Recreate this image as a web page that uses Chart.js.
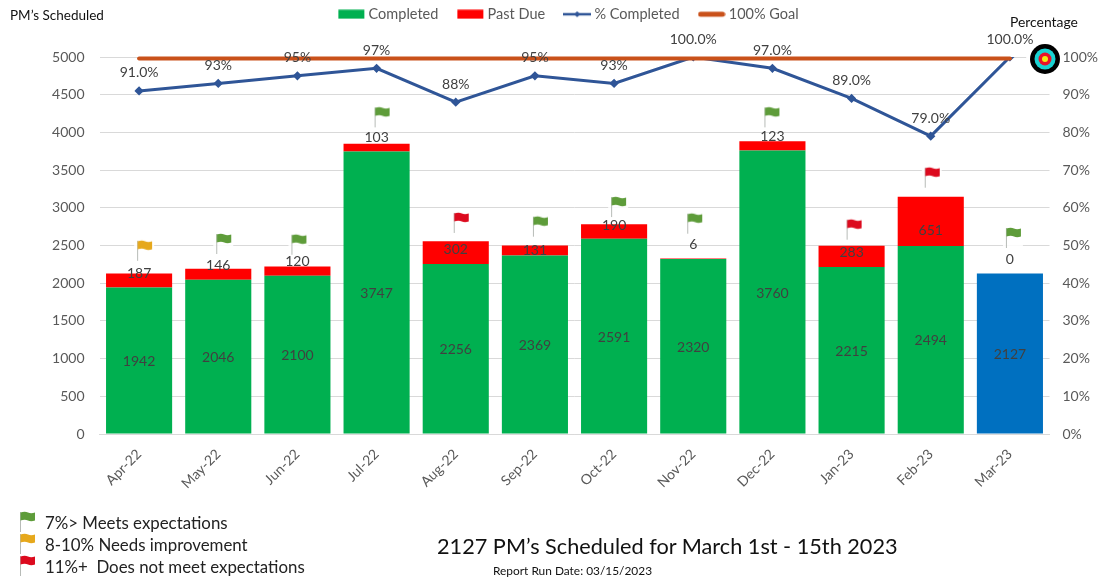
<!DOCTYPE html>
<html><head><meta charset="utf-8">
<style>
html,body{margin:0;padding:0;background:#fff;width:1102px;height:580px;overflow:hidden;font-family:Lato,sans-serif}
#wrap{position:relative;width:1102px;height:580px;filter:blur(0.3px)}
canvas{display:block}
.t{position:absolute;white-space:nowrap;line-height:1;transform:translateY(-50%)}
.ico{position:absolute}
</style>
<script src="https://cdn.jsdelivr.net/npm/chart.js@4"></script>
</head><body>
<div id="wrap">
<canvas id="c" width="1102" height="580"></canvas>
<div class="t" style="left:10px;top:16px;font-size:13.5px;color:#111">PM’s Scheduled</div>
<div class="t" style="left:1010px;top:22px;font-size:13.9px;color:#111">Percentage</div>
<div class="t" style="left:45px;top:523px;font-size:16.85px;color:#222">7%&gt; Meets expectations</div>
<div class="t" style="left:45px;top:545px;font-size:16.85px;color:#222">8-10% Needs improvement</div>
<div class="t" style="left:45px;top:567px;font-size:16.85px;color:#222">11%+&nbsp; Does not meet expectations</div>
<div class="t" style="left:437px;top:547px;font-size:21.7px;color:#111">2127 PM’s Scheduled for March 1st - 15th 2023</div>
<div class="t" style="left:493px;top:571px;font-size:11.9px;color:#111">Report Run Date: 03/15/2023</div>
</div>
<script>
const categories = ['Apr-22','May-22','Jun-22','Jul-22','Aug-22','Sep-22','Oct-22','Nov-22','Dec-22','Jan-23','Feb-23','Mar-23'];
const completed  = [1942,2046,2100,3747,2256,2369,2591,2320,3760,2215,2494,2127];
const pastDue    = [187,146,120,103,302,131,190,6,123,283,651,0];
const pctCompleted = [91,93,95,97,88,95,93,100,97,89,79,100];
const pctLabels  = ['91.0%','93%','95%','97%','88%','95%','93%','100.0%','97.0%','89.0%','79.0%','100.0%'];
const goal       = [99.6,99.6,99.6,99.6,99.6,99.6,99.6,99.6,99.6,99.6,99.6,99.6];
const flagStatus = ['amber','green','green','green','red','green','green','green','green','red','red','green'];
const flagLevels = [2430,2520,2510,4200,2800,2750,3010,2790,4200,2710,3400,2600];

// styling / hand placement (not data)
const flagColors = {green:'#5E9C3A',amber:'#E6A81C',red:'#DC0A1E'};
const flagShift = [-2,-2,-6,-2,-2,-2,-3,-6,-8,-5,-6,-4];
const pastDueNudge = [0.5,-3.7,-5.6,-6.7,8,4.5,1,-14.6,-5,6.4,34,-14.6];
const GREEN='#00B050',RED='#FF0000',BLUE='#0070C0',LINE='#2F5597',ORANGE='#C9511A';
const FONT='Lato';

function flagIcon(color,shift,halo){
  const c=document.createElement('canvas');c.width=32;c.height=24;
  const g=c.getContext('2d');const x=16+(shift||0);
  if(halo){g.fillStyle='rgba(255,255,255,0.85)';g.fillRect(Math.max(0,x-3),0,20,24);}
  g.fillStyle='rgba(175,180,175,0.9)';g.fillRect(x,2,1,20);
  g.fillStyle=color;
  g.beginPath();g.moveTo(x+0.5,2.5);
  g.quadraticCurveTo(x+5,1,x+8,2.5);g.quadraticCurveTo(x+11,4,x+15,2.5);
  g.lineTo(x+15,10.5);g.quadraticCurveTo(x+11,12,x+8,10.5);g.quadraticCurveTo(x+5,9,x+0.5,10.5);
  g.closePath();g.fill();
  return c;
}
const flagImages = flagStatus.map((s,i)=>flagIcon(flagColors[s],flagShift[i],true));

function legendIcon(kind){
  const c=document.createElement('canvas');c.width=28;c.height=10;
  const g=c.getContext('2d');
  if(kind==='line'){
    g.strokeStyle=LINE;g.lineWidth=2.5;g.beginPath();g.moveTo(0,5);g.lineTo(28,5);g.stroke();
    g.fillStyle=LINE;g.beginPath();g.moveTo(14,2);g.lineTo(17,5);g.lineTo(14,8);g.lineTo(11,5);g.closePath();g.fill();
  }else if(kind==='goal'){
    g.strokeStyle=ORANGE;g.lineWidth=5;g.lineCap='round';g.beginPath();g.moveTo(3,5);g.lineTo(25,5);g.stroke();
  }else{
    g.fillStyle=kind;g.fillRect(1,0.5,26,9);
  }
  return c;
}
const legendEntries=[['Completed',legendIcon(GREEN)],['Past Due',legendIcon(RED)],['% Completed',legendIcon('line')],['100% Goal',legendIcon('goal')]];

// small HTML icons: key flags and target
const wrap=document.getElementById('wrap');
[['green',520],['amber',542],['red',564]].forEach(([s,y])=>{
  const im=flagIcon(flagColors[s],-4,false);im.className='ico';
  im.style.left='8px';im.style.top=(y-10)+'px';wrap.appendChild(im);
});
(function(){
  const c=document.createElement('canvas');c.width=38;c.height=38;c.className='ico';
  c.style.left='1026px';c.style.top='40px';
  const g=c.getContext('2d');
  [[19,'#ffffff'],[15,'#000000'],[10.5,'#19D3D3'],[6.5,'#E8132B'],[3,'#F2EE10']].forEach(([r,col])=>{
    g.fillStyle=col;g.beginPath();g.arc(19,19,r,0,Math.PI*2);g.fill();
  });
  wrap.appendChild(c);
})();

const placePlugin={
  id:'place',
  beforeLayout(chart){
    const L=chart.legend;
    if(L&&!L._fixed){const f=L.fit;L.fit=function(){f.call(this);this.height=57;};L._fixed=true;}
  },
  afterLayout(chart){
    const L=chart.legend; L.left+=19; L.right+=19; L.top-=15; L.bottom-=15;
  }
};
const labelPlugin={
  id:'valueLabels',
  afterDatasetsDraw(chart){
    const g=chart.ctx;g.save();
    g.font='14px '+FONT;g.fillStyle='#404040';g.textAlign='center';g.textBaseline='middle';
    const m0=chart.getDatasetMeta(0),m1=chart.getDatasetMeta(1),m2=chart.getDatasetMeta(2);
    categories.forEach((c,i)=>{
      const a=m0.data[i],b=m1.data[i],p=m2.data[i];
      g.fillText(String(completed[i]),a.x,(a.y+a.base)/2+1);
      g.fillText(String(pastDue[i]),b.x,b.y+pastDueNudge[i]);
      g.fillText(pctLabels[i],p.x,p.y-18);
    });
    g.restore();
  }
};

new Chart(document.getElementById('c'),{
  data:{labels:categories,datasets:[
    {type:'bar',label:'Completed',data:completed,backgroundColor:completed.map((v,i)=>i===categories.length-1?BLUE:GREEN),yAxisID:'y',stack:'s',order:5,barPercentage:0.835,categoryPercentage:1},
    {type:'bar',label:'Past Due',data:pastDue,backgroundColor:RED,yAxisID:'y',stack:'s',order:5,barPercentage:0.835,categoryPercentage:1},
    {type:'line',label:'% Completed',data:pctCompleted,yAxisID:'y1',borderColor:LINE,backgroundColor:LINE,borderWidth:3,pointStyle:'rectRot',pointRadius:2.5,tension:0,order:3},
    {type:'line',label:'100% Goal',data:goal,yAxisID:'y1',borderColor:ORANGE,borderWidth:4,pointRadius:0,borderCapStyle:'round',tension:0,order:2,clip:false},
    {type:'line',label:'Flags',data:flagLevels,yAxisID:'y',stack:'f',showLine:false,pointStyle:flagImages,pointRadius:10,order:1}
  ]},
  options:{
    responsive:false,animation:false,devicePixelRatio:1,
    layout:{padding:0},
    plugins:{
      tooltip:{enabled:false},
      legend:{position:'top',align:'center',labels:{
        usePointStyle:true,pointStyleWidth:20,padding:22,color:'#595959',font:{family:FONT,size:14.5},
        generateLabels:()=>legendEntries.map(([text,img],i)=>({text,pointStyle:img,datasetIndex:i,fontColor:'#595959',hidden:false,lineWidth:0}))
      }}
    },
    scales:{
      x:{stacked:true,grid:{display:false},border:{display:true,color:'#D9D9D9'},
        afterFit(s){s.height=146;},
        ticks:{minRotation:45,maxRotation:45,color:'#595959',font:{family:FONT,size:14},padding:4,autoSkip:false}},
      y:{position:'left',stacked:true,min:0,max:5000,
        afterFit(s){s.width=99.5;},
        ticks:{stepSize:500,color:'#595959',font:{family:FONT,size:14},padding:15,callback:v=>String(v)},
        grid:{color:'#D9D9D9',drawTicks:false},border:{display:false}},
      y1:{position:'right',min:0,max:100,
        afterFit(s){s.width=52.5;},
        ticks:{stepSize:10,color:'#595959',font:{family:FONT,size:14},padding:13,callback:v=>v+'%'},
        grid:{display:false,drawTicks:false},border:{display:false}}
    }
  },
  plugins:[placePlugin,labelPlugin]
});
</script>
</body></html>
